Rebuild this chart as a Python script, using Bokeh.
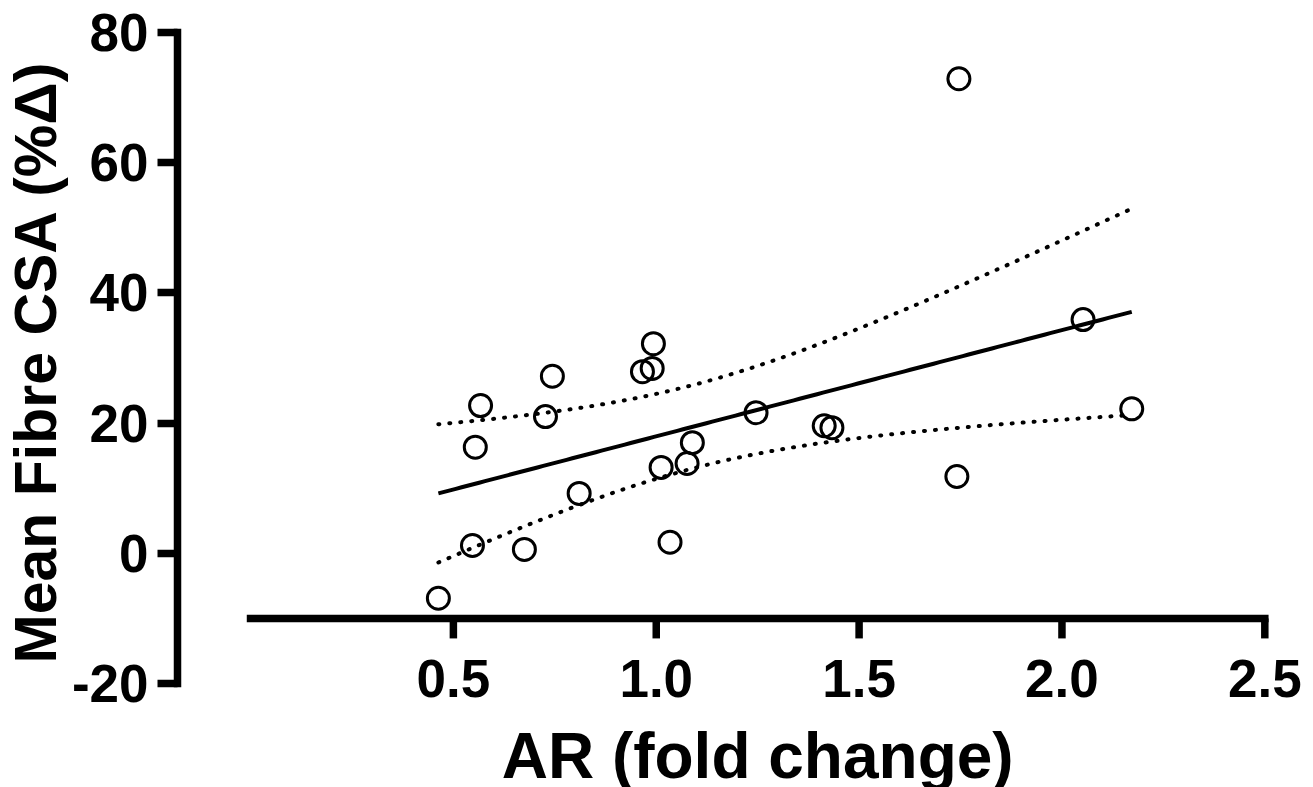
import numpy as np
from bokeh.plotting import figure
from bokeh.models import Range1d, FixedTicker, Title
from bokeh.core.properties import value
from bokeh.embed import file_html
from bokeh.resources import INLINE

# ---- data ----
ar_fold = [0.463, 0.547, 0.554, 0.567, 0.727, 0.744, 0.675, 0.810, 0.966, 0.990, 0.993,
           1.012, 1.034, 1.076, 1.089, 1.246, 1.414, 1.433, 1.741, 1.746, 2.052, 2.172]
csa_pct = [-6.9, 1.2, 16.3, 22.7, 21.0, 27.2, 0.6, 9.2, 27.9, 28.4, 32.2,
           13.2, 1.7, 13.8, 17.0, 21.6, 19.6, 19.3, 11.8, 72.9, 35.9, 22.2]
x_ticks = [0.5, 1.0, 1.5, 2.0, 2.5]
x_tick_labels = ["0.5", "1.0", "1.5", "2.0", "2.5"]
y_ticks = [-20, 0, 20, 40, 60, 80]
y_tick_labels = ["-20", "0", "20", "40", "60", "80"]
x_title = "AR (fold change)"
y_title = "Mean Fibre CSA (%\u0394)"
T_CRIT = 2.086  # t(0.975, df = n - 2 = 20)

# axis geometry (Prism-style offset axes)
X_AXIS_AT = -10          # y value where the x axis is drawn
X_AXIS_START = 0.0       # x axis line starts here
Y_AXIS_AT = -0.18        # x value where the y axis is drawn
X_VIEW_END = 2.62        # frame extends past 2.5 so the last label fits
Y_VIEW_START = -35.97    # frame extends below -20 so x labels fit

# ---- linear regression with 95% confidence band ----
xs = np.array(ar_fold)
ys = np.array(csa_pct)
n = len(xs)
xm, ym = xs.mean(), ys.mean()
sxx = ((xs - xm) ** 2).sum()
slope = ((xs - xm) * (ys - ym)).sum() / sxx
icpt = ym - slope * xm
resid = ys - (icpt + slope * xs)
s_err = np.sqrt((resid ** 2).sum() / (n - 2))
xf = np.linspace(xs.min(), xs.max(), 120)
yf = icpt + slope * xf
half = T_CRIT * s_err * np.sqrt(1.0 / n + (xf - xm) ** 2 / sxx)

FONT = "Liberation Sans"

p = figure(width=1313, height=787,
           x_range=Range1d(Y_AXIS_AT, X_VIEW_END), y_range=Range1d(Y_VIEW_START, y_ticks[-1]),
           output_backend="svg", toolbar_location=None,
           min_border_left=176, min_border_right=0,
           min_border_top=32, min_border_bottom=0)
p.outline_line_color = None
p.xgrid.visible = False
p.ygrid.visible = False
p.xaxis.visible = False
p.background_fill_color = "white"
p.border_fill_color = "white"

# y axis (real axis, limited to -20..80)
ya = p.yaxis[0]
ya.bounds = (y_ticks[0], y_ticks[-1])
ya.ticker = FixedTicker(ticks=y_ticks, minor_ticks=[])
ya.major_label_overrides = dict(zip(y_ticks, y_tick_labels))
ya.axis_line_width = 7.5
ya.axis_line_cap = "square"
ya.axis_line_color = "black"
ya.major_tick_line_width = 7.5
ya.major_tick_line_color = "black"
ya.major_tick_out = 20
ya.major_tick_in = 0
ya.minor_tick_out = 0
ya.minor_tick_in = 0
ya.major_label_text_font = FONT
ya.major_label_text_font_size = "53px"
ya.major_label_text_font_style = "bold"
ya.major_label_text_color = "black"
ya.major_label_standoff = 9

# y title as a side title, aligned to the top of the axis span
p.add_layout(Title(text=y_title, align="right", offset=28, standoff=0,
                   text_font=FONT, text_font_size="59px", text_font_style="bold",
                   text_color="black"), "left")

# x axis drawn at y = -10 (line, ticks, labels, title)
p.line([X_AXIS_START, x_ticks[-1]], [X_AXIS_AT, X_AXIS_AT], line_color="black",
       line_width=7.5, line_cap="square")
p.ray(x=x_ticks, y=[X_AXIS_AT] * len(x_ticks), length=20, length_units="screen",
      angle=-np.pi / 2, line_color="black", line_width=7.5)
p.text(x=x_ticks, y=[X_AXIS_AT] * len(x_ticks), text=x_tick_labels,
       y_offset=60, text_align="center", text_baseline="alphabetic",
       text_font=value(FONT), text_font_size="53px", text_font_style="bold",
       text_color="black")
p.text(x=[(X_AXIS_START + x_ticks[-1]) / 2], y=[X_AXIS_AT], text=[x_title],
       y_offset=138, text_align="center", text_baseline="alphabetic",
       text_font=value(FONT), text_font_size="64px",
       text_font_style="bold", text_color="black")

# confidence band (dotted) and fit line
p.line(xf, yf + half, line_color="black", line_width=4, line_dash="1 10", line_cap="round")
p.line(xf, yf - half, line_color="black", line_width=4, line_dash="1 10", line_cap="round")
p.line(xf, yf, line_color="black", line_width=4)

# data points
p.scatter(ar_fold, csa_pct, marker="circle", size=22, fill_color=None,
          line_color="black", line_width=3)

open("out.html", "w").write(file_html(p, INLINE))
